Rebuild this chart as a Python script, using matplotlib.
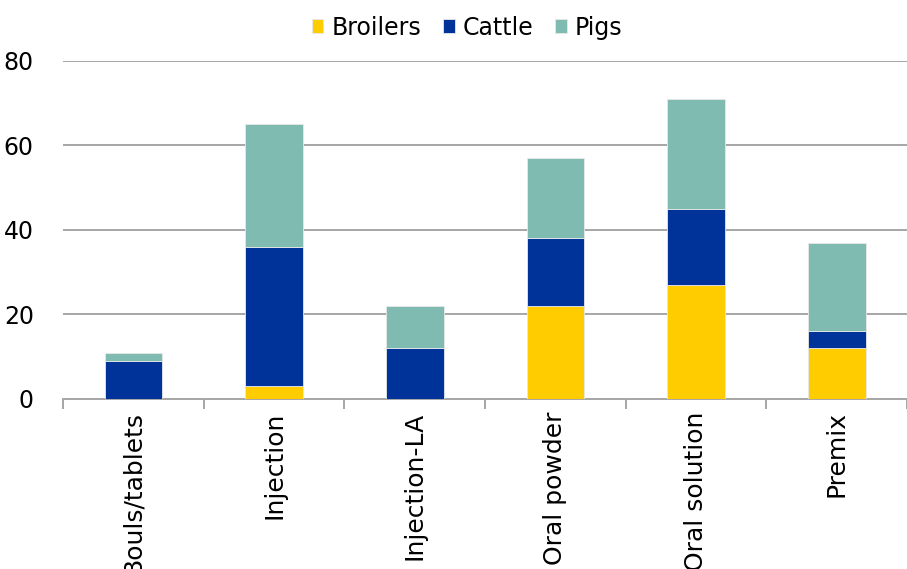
import matplotlib
matplotlib.use("Agg")
import matplotlib.pyplot as plt
import numpy as np

categories = ["Bouls/tablets", "Injection", "Injection-LA", "Oral powder", "Oral solution", "Premix"]
broilers = [0, 3, 0, 22, 27, 12]
cattle = [9, 33, 12, 16, 18, 4]
pigs = [2, 29, 10, 19, 26, 21]

colors = {"Broilers": "#FFCC00", "Cattle": "#003399", "Pigs": "#7FBBB1"}

plt.rcParams["font.family"] = ["DejaVu Sans"]

fig = plt.figure(figsize=(9.07, 5.69), dpi=100)
ax = fig.add_axes([0.0695, 0.2988, 0.9305, 0.594])

x = np.arange(len(categories))
w = 0.41
bottom = np.zeros(len(categories))
for name, vals in [("Broilers", broilers), ("Cattle", cattle), ("Pigs", pigs)]:
    ax.bar(x, vals, w, bottom=bottom, color=colors[name], label=name,
           edgecolor="#e8e8e8", linewidth=0.6, zorder=3)
    bottom += np.array(vals)

ax.set_ylim(0, 80)
ax.set_xlim(-0.5, len(categories) - 0.5)
ax.set_yticks([0, 20, 40, 60, 80])
ax.yaxis.grid(True, color="#a6a6a6", linewidth=1.4, zorder=0)
ax.tick_params(axis="y", length=0, labelsize=17, pad=21)

ax.set_xticks(x)
ax.set_xticklabels(categories, rotation=90, fontsize=18, va="top")
ax.tick_params(axis="x", which="major", length=0, pad=9)
ax.set_xticks(np.arange(-0.5, len(categories)), minor=True)
ax.tick_params(axis="x", which="minor", length=7, width=1.4, color="#a6a6a6", direction="out")

for s in ["top", "right", "left"]:
    ax.spines[s].set_visible(False)
ax.spines["bottom"].set_color("#a6a6a6")
ax.spines["bottom"].set_linewidth(1.4)

fig.legend(loc="upper center", bbox_to_anchor=(0.515, 1.01), ncol=3, frameon=False,
           fontsize=17, handlelength=0.5, handleheight=0.55, handletextpad=0.35,
           columnspacing=0.9)

fig.savefig("out.png", dpi=100)
